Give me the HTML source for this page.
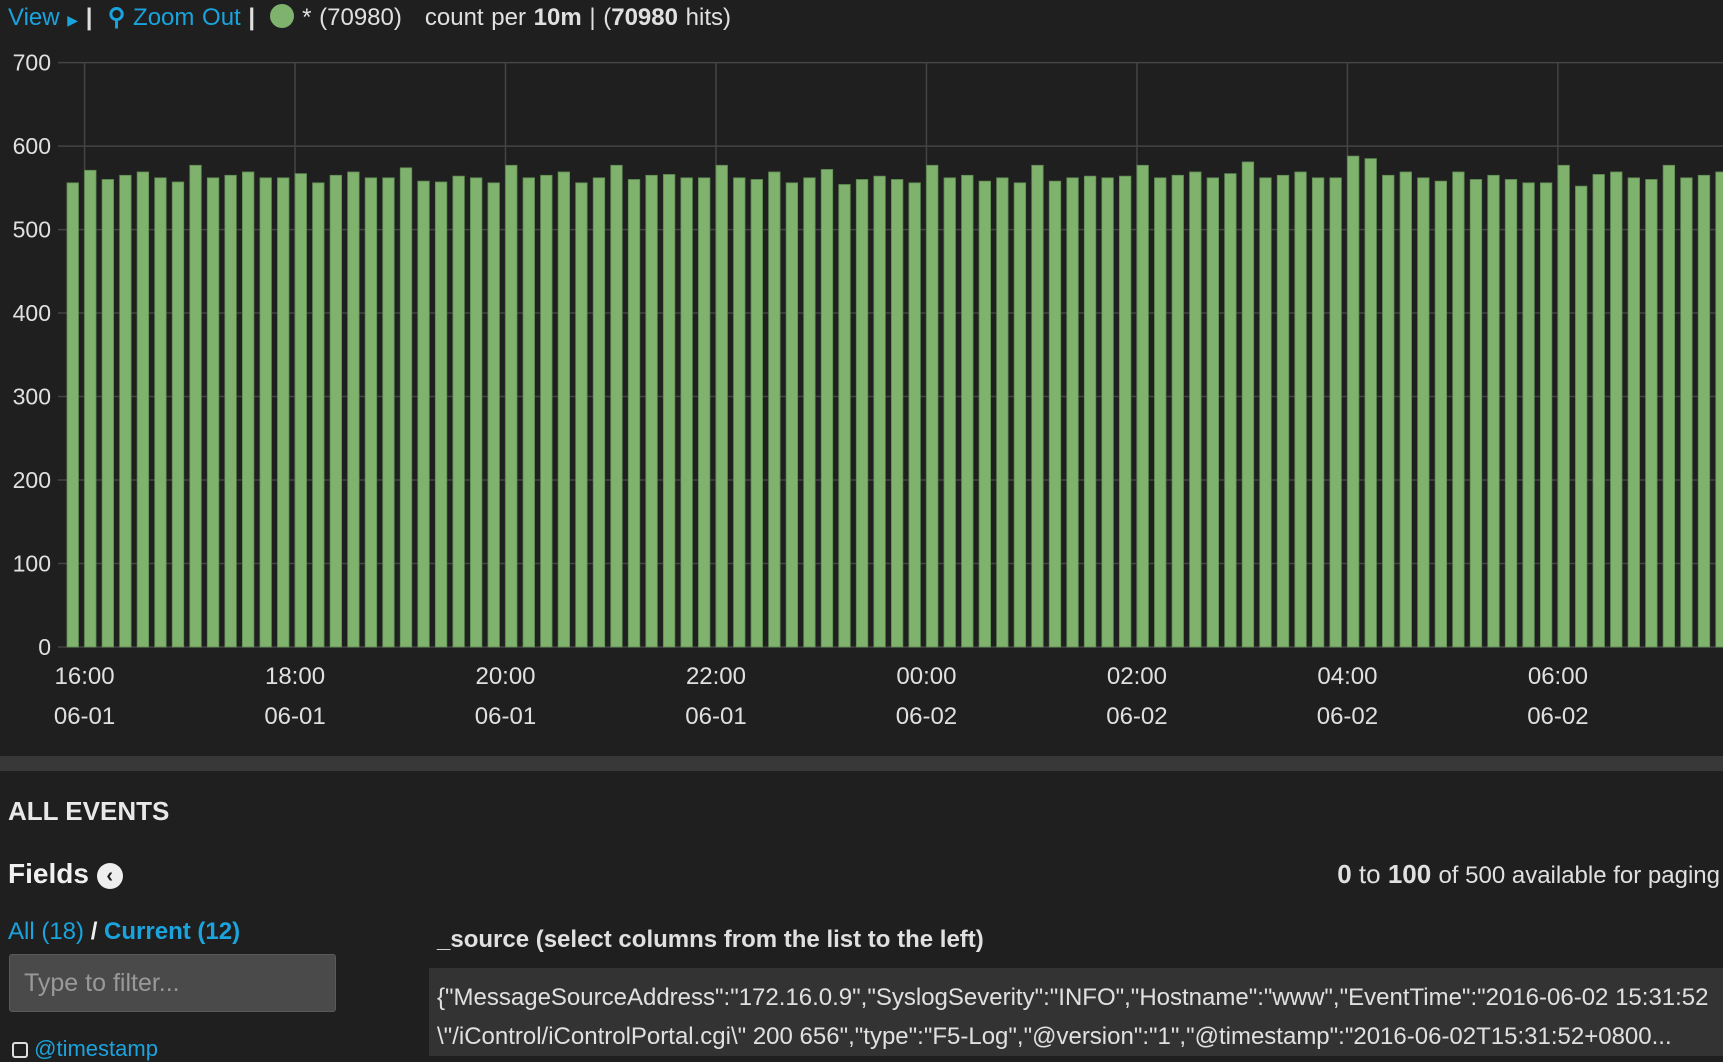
<!DOCTYPE html>
<html><head><meta charset="utf-8">
<style>
*{margin:0;padding:0;box-sizing:border-box}
body{width:1723px;height:1056px;overflow:hidden;background:#1f1f1f;font-family:"Liberation Sans",Arial,sans-serif;color:#e0e0e0;position:relative}
.t{position:absolute;white-space:nowrap}
.blue{color:#1aa3dd}
</style></head><body>
<div class="t" style="left:8px;top:3px;font-size:24px;word-spacing:1px">
<span class="blue">View <span style="font-size:14px">&#9654;</span></span> <b>|</b>
&nbsp;<span class="blue"><span style="font-weight:bold">&#9906;</span> Zoom Out</span> <b>|</b>
&nbsp;<span style="display:inline-block;width:24px;height:24px;border-radius:50%;background:#7eb26d;vertical-align:-3px"></span>
<span>* (70980)</span>&nbsp;&nbsp; count per <b>10m</b> | (<b>70980</b> hits)
</div>
<svg id="chart" width="1723" height="740" style="position:absolute;left:0;top:0"></svg>
<div style="position:absolute;left:0;top:756px;width:1723px;height:15px;background:#383838"></div>
<div class="t" style="left:8px;top:796px;font-size:26px;font-weight:bold;color:#e8e8e8">ALL EVENTS</div>
<div class="t" style="left:8px;top:858px;font-size:28px;font-weight:bold;color:#f0f0f0">Fields <span style="display:inline-block;width:26px;height:26px;border-radius:50%;background:#eee;color:#1f1f1f;font-size:20px;text-align:center;line-height:26px;vertical-align:1px">&#8249;</span></div>
<div class="t" style="right:3px;top:859px;font-size:26px;color:#e0e0e0"><b>0</b> to <b>100</b> <span style="font-size:24px">of 500 available for paging</span></div>
<div class="t" style="left:8px;top:918px;font-size:24px"><span class="blue">All (18)</span> <b style="color:#eee">/</b> <span class="blue" style="font-weight:bold">Current (12)</span></div>
<div style="position:absolute;left:9px;top:954px;width:327px;height:58px;background:#4a4a4a;border:1px solid #5a5a5a;border-radius:3px"><span class="t" style="left:14px;top:14px;font-size:25px;color:#999">Type to filter...</span></div>
<div class="t" style="left:12px;top:1036px;font-size:22px"><span style="display:inline-block;width:16px;height:16px;border:2px solid #ddd;border-radius:3px;vertical-align:-2px"></span> <span class="blue">@timestamp</span></div>
<div class="t" style="left:437px;top:926px;font-size:24px;font-weight:bold">_source (select columns from the list to the left)</div>
<div style="position:absolute;left:429px;top:968px;width:1294px;height:88px;background:#333"></div>
<div class="t" style="left:437px;top:984px;font-size:24px">{"MessageSourceAddress":"172.16.0.9","SyslogSeverity":"INFO","Hostname":"www","EventTime":"2016-06-02 15:31:52</div>
<div class="t" style="left:437px;top:1023px;font-size:24px">\"/iControl/iControlPortal.cgi\" 200 656","type":"F5-Log","@version":"1","@timestamp":"2016-06-02T15:31:52+0800...</div>
<script>
const values=[556,571,560,565,569,562,557,577,562,565,569,562,562,567,556,565,569,562,562,574,558,557,564,562,556,577,562,565,569,556,562,577,
560,565,566,562,562,577,562,560,569,556,562,572,554,560,564,560,556,577,562,565,558,562,556,577,558,562,564,562,564,577,562,
565,569,562,567,581,562,565,569,562,562,588,585,565,569,562,558,569,560,565,560,556,556,577,552,566,569,562,560,577,562,565,569];
const yTicks=[0,100,200,300,400,500,600,700];
const timeLabels=["16:00","18:00","20:00","22:00","00:00","02:00","04:00","06:00"];
const dateLabels=["06-01","06-01","06-01","06-01","06-02","06-02","06-02","06-02"];
const NS="http://www.w3.org/2000/svg";
const svg=document.getElementById('chart');
const y0=647,y700=62.6,x0=67,step=17.54,bw=11.5;
const ys=v=>y0-(v/700)*(y0-y700);
const xs=i=>x0+i*step;
function mk(t,a){const e=document.createElementNS(NS,t);for(const k in a)e.setAttribute(k,a[k]);svg.appendChild(e);return e;}
yTicks.forEach(v=>{
  const l=mk('line',{x1:58,x2:1723,y1:ys(v),y2:ys(v),stroke:'#444','stroke-width':1.5});
  
  
  const t=mk('text',{x:51,y:ys(v)+8,'text-anchor':'end','font-size':23,fill:'#e0e0e0'});
  t.textContent=v;
  
  
});
timeLabels.forEach((s,k)=>{
  const x=xs(1+k*12);
  const l=mk('line',{x1:x,x2:x,y1:y700,y2:y0,stroke:'#444','stroke-width':1.5});
  
  
  const t=mk('text',{x:x,y:684,'text-anchor':'middle','font-size':24,fill:'#e0e0e0'});
  t.textContent=s;
  
  
  const d=mk('text',{x:x,y:724,'text-anchor':'middle','font-size':24,fill:'#e0e0e0'});
  d.textContent=dateLabels[k];
  
  
});
values.forEach((v,i)=>{
  const r=mk('rect',{x:xs(i),y:ys(v),width:bw,height:y0-ys(v),fill:'#7eb26d',stroke:'#5f8a52','stroke-width':0.8});
  
  
});
</script>
</body></html>
